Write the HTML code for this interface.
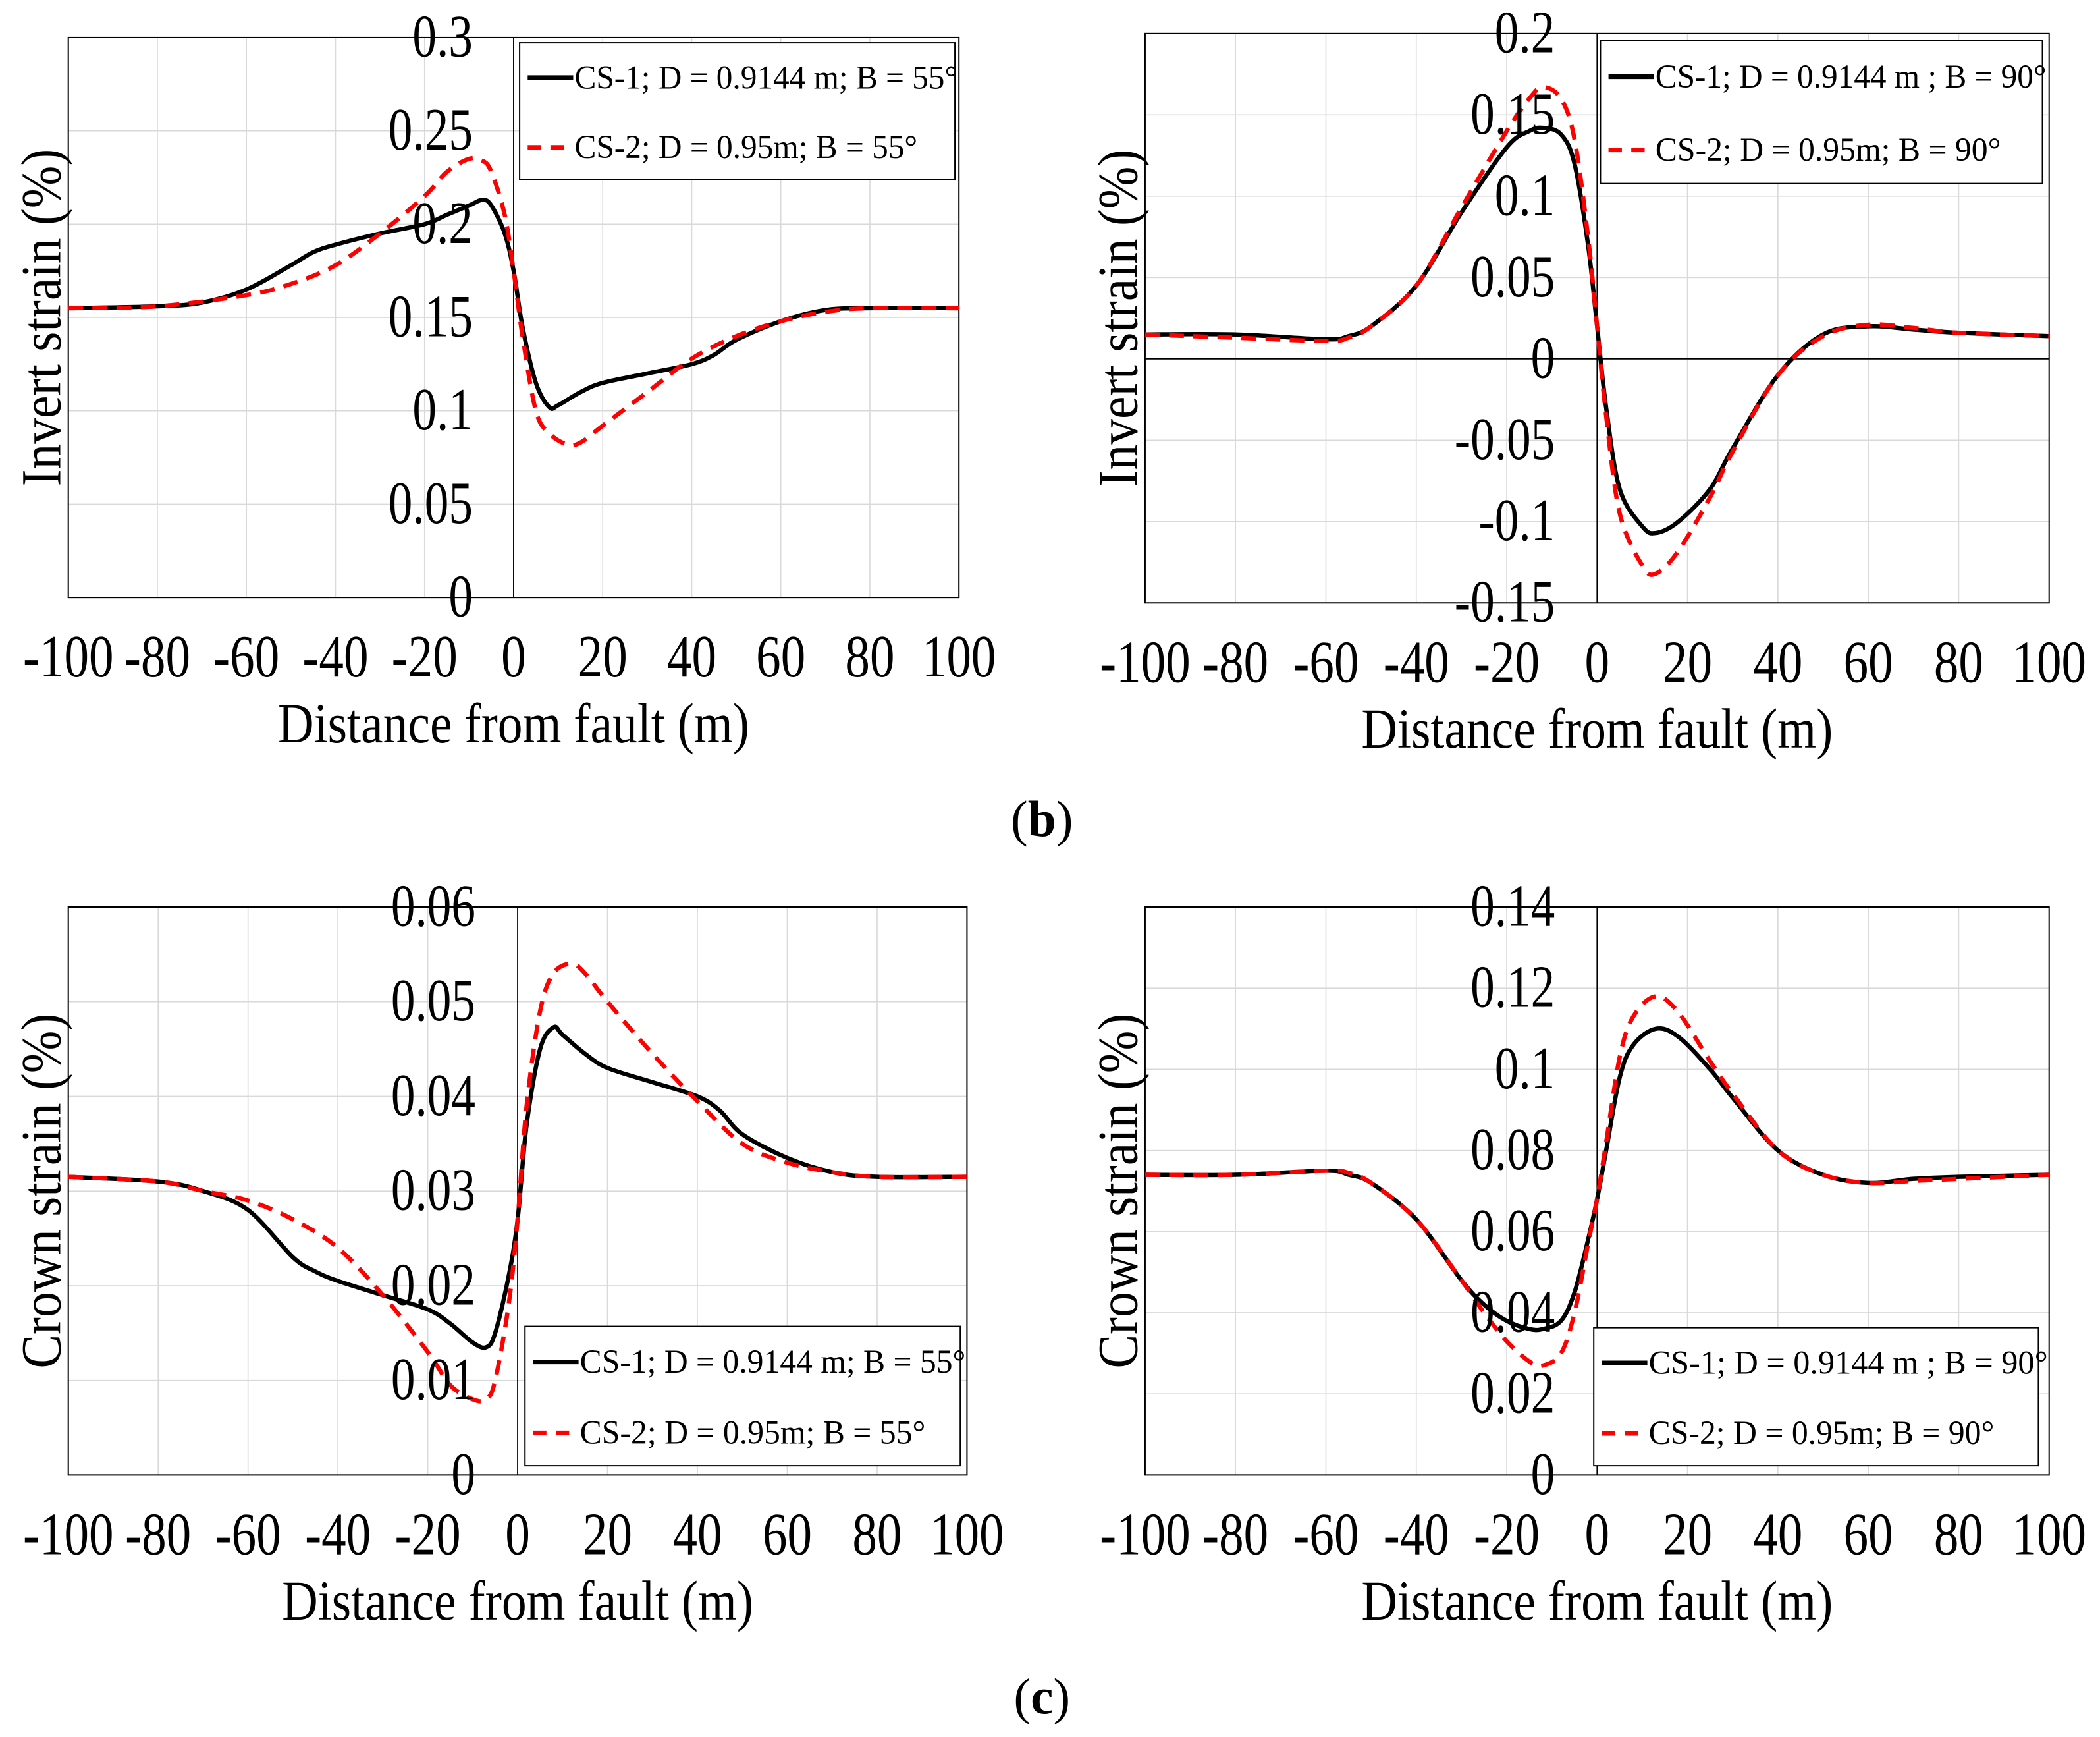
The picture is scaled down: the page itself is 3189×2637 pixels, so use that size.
<!DOCTYPE html>
<html><head><meta charset="utf-8"><style>
html,body{margin:0;padding:0;background:#fff;}
svg{display:block;}
text{font-family:"Liberation Serif","Times New Roman",serif;fill:#000;}
</style></head>
<body>
<svg id="fig" width="3189" height="2637" viewBox="0 0 1568 1296.5" preserveAspectRatio="none" xmlns="http://www.w3.org/2000/svg">
<text x="778" y="624" text-anchor="middle" font-size="38">(<tspan font-weight="bold">b</tspan>)</text>
<text x="778" y="1279" text-anchor="middle" font-size="38">(<tspan font-weight="bold">c</tspan>)</text>
</svg>
<script>
// ---- Panel A: invert strain, B=55
const aX1 = [-100,-80,-70,-60,-50,-45,-40,-30,-20,-15,-10,-7,-5,-2,0,2,5,8,10,15,20,30,40,45,50,60,70,80,100];
const aY1 = [0.155,0.156,0.158,0.165,0.178,0.185,0.189,0.195,0.2,0.205,0.21,0.213,0.21,0.195,0.175,0.145,0.115,0.102,0.103,0.11,0.115,0.12,0.125,0.13,0.138,0.148,0.154,0.155,0.155];
const aX2 = [-100,-80,-60,-50,-40,-30,-20,-15,-10,-7,-5,-2,0,2,5,8,12,15,20,30,40,50,60,70,80,100];
const aY2 = [0.155,0.156,0.162,0.168,0.178,0.195,0.215,0.228,0.235,0.234,0.228,0.205,0.175,0.14,0.1,0.088,0.082,0.083,0.092,0.11,0.128,0.14,0.148,0.153,0.155,0.155];
const aTicks = [0,0.05,0.1,0.15,0.2,0.25,0.3];
const aTickLabels = ["0","0.05","0.1","0.15","0.2","0.25","0.3"];
// ---- Panel B: invert strain, B=90
const bX1 = [-100,-80,-60,-55,-50,-40,-30,-20,-15,-12,-8,-5,-2,0,2,5,10,13,18,25,30,40,50,60,70,80,100];
const bY1 = [0.015,0.015,0.012,0.014,0.02,0.045,0.09,0.13,0.14,0.142,0.138,0.12,0.07,0.02,-0.03,-0.08,-0.103,-0.107,-0.1,-0.08,-0.055,-0.01,0.015,0.02,0.018,0.016,0.014];
const bX2 = [-100,-80,-60,-55,-50,-40,-30,-20,-15,-12,-8,-5,-2,0,2,5,10,13,18,25,30,40,50,60,70,80,100];
const bY2 = [0.015,0.013,0.011,0.013,0.02,0.045,0.093,0.14,0.16,0.167,0.16,0.135,0.075,0.02,-0.035,-0.095,-0.127,-0.132,-0.118,-0.085,-0.057,-0.01,0.014,0.021,0.019,0.016,0.014];
const bTicks = [-0.15,-0.1,-0.05,0,0.05,0.1,0.15,0.2];
const bTickLabels = ["-0.15","-0.1","-0.05","0","0.05","0.1","0.15","0.2"];
// ---- Panel C: crown strain, B=55
const cX1 = [-100,-80,-70,-60,-50,-45,-40,-30,-20,-15,-10,-7,-5,-2,0,2,5,8,10,15,20,30,40,45,50,60,70,80,100];
const cY1 = [0.0315,0.031,0.030,0.028,0.023,0.0215,0.0205,0.019,0.0175,0.016,0.014,0.0135,0.015,0.021,0.027,0.037,0.045,0.0473,0.0465,0.0445,0.043,0.0415,0.040,0.0385,0.036,0.0335,0.032,0.0315,0.0315];
const cX2 = [-100,-80,-70,-60,-50,-40,-30,-20,-15,-10,-7,-5,-2,0,2,5,8,12,15,20,30,40,50,60,70,80,100];
const cY2 = [0.0315,0.031,0.030,0.029,0.027,0.024,0.019,0.013,0.0095,0.008,0.008,0.01,0.018,0.027,0.039,0.049,0.053,0.054,0.053,0.05,0.0445,0.0395,0.035,0.033,0.032,0.0315,0.0315];
const cTicks = [0,0.01,0.02,0.03,0.04,0.05,0.06];
const cTickLabels = ["0","0.01","0.02","0.03","0.04","0.05","0.06"];
// ---- Panel D: crown strain, B=90
const dX1 = [-100,-80,-60,-55,-50,-40,-30,-25,-20,-15,-12,-8,-5,-2,0,2,5,8,13,18,25,30,40,50,60,70,80,100];
const dY1 = [0.074,0.074,0.075,0.074,0.072,0.063,0.048,0.042,0.038,0.036,0.036,0.038,0.045,0.058,0.068,0.08,0.098,0.106,0.11,0.108,0.1,0.093,0.08,0.074,0.072,0.073,0.0735,0.074];
const dX2 = [-100,-80,-60,-55,-50,-40,-30,-25,-20,-15,-12,-8,-5,-2,0,2,5,8,13,18,25,30,40,50,60,70,80,100];
const dY2 = [0.074,0.074,0.075,0.0745,0.072,0.063,0.048,0.04,0.033,0.028,0.027,0.03,0.04,0.057,0.068,0.082,0.103,0.113,0.118,0.114,0.102,0.094,0.08,0.074,0.072,0.0725,0.073,0.074];
const dTicks = [0,0.02,0.04,0.06,0.08,0.1,0.12,0.14];
const dTickLabels = ["0","0.02","0.04","0.06","0.08","0.1","0.12","0.14"];
const xTicks = [-100,-80,-60,-40,-20,0,20,40,60,80,100];
const xTickLabels = ["-100","-80","-60","-40","-20","0","20","40","60","80","100"];

const NS = "http://www.w3.org/2000/svg";
const svg = document.getElementById('fig');
function mk(tag, attrs, parent){
  const e = document.createElementNS(NS, tag);
  for (const k in attrs) e.setAttribute(k, attrs[k]);
  (parent||svg).appendChild(e);
  return e;
}
function condense(t, f){
  const w = t.getComputedTextLength();
  t.setAttribute('textLength', (w*f).toFixed(1));
  t.setAttribute('lengthAdjust', 'spacingAndGlyphs');
}
function smoothPath(pts){
  let d = 'M' + pts[0][0].toFixed(2) + ' ' + pts[0][1].toFixed(2);
  for (let i=0;i<pts.length-1;i++){
    const p0 = pts[i-1]||pts[i], p1 = pts[i], p2 = pts[i+1], p3 = pts[i+2]||p2;
    const c1 = [p1[0]+(p2[0]-p0[0])/6, p1[1]+(p2[1]-p0[1])/6];
    const c2 = [p2[0]-(p3[0]-p1[0])/6, p2[1]-(p3[1]-p1[1])/6];
    d += ' C'+c1[0].toFixed(2)+' '+c1[1].toFixed(2)+' '+c2[0].toFixed(2)+' '+c2[1].toFixed(2)+' '+p2[0].toFixed(2)+' '+p2[1].toFixed(2);
  }
  return d;
}
function panel(cfg){
  const g = mk('g', {});
  
  
  const L=cfg.l, R=cfg.r, T=cfg.t, B=cfg.b;
  const sx = v => L + (v+100)/200*(R-L);
  const sy = v => B - (v-cfg.ymin)/(cfg.ymax-cfg.ymin)*(B-T);
  xTicks.forEach(v => {
    const ln = mk('line', {x1:sx(v), x2:sx(v), y1:T, y2:B, stroke:'#d9d9d9', 'stroke-width':0.8}, g);
    
    
  });
  cfg.ticks.forEach(v => {
    const ln = mk('line', {x1:L, x2:R, y1:sy(v), y2:sy(v), stroke:'#d9d9d9', 'stroke-width':0.8}, g);
    
    
  });
  const fr = mk('rect', {x:L, y:T, width:R-L, height:B-T, fill:'none', stroke:'#000', 'stroke-width':1}, g);
  
  
  const ya = mk('line', {x1:sx(0), x2:sx(0), y1:T, y2:B, stroke:'#000', 'stroke-width':0.9}, g);
  
  
  if (cfg.ymin < 0){
    const za = mk('line', {x1:L, x2:R, y1:sy(0), y2:sy(0), stroke:'#000', 'stroke-width':0.9}, g);
    
    
  }
  const s1 = mk('path', {d:smoothPath(cfg.x1.map((v,i)=>[sx(v), sy(cfg.y1[i])])), fill:'none', stroke:'#000', 'stroke-width':3.2, 'stroke-linejoin':'round'}, g);
  
  
  const s2 = mk('path', {d:smoothPath(cfg.x2.map((v,i)=>[sx(v), sy(cfg.y2[i])])), fill:'none', stroke:'#ff0000', 'stroke-width':3.2, 'stroke-dasharray':'11 7'}, g);
  
  
  cfg.ticks.forEach((v,i) => {
    const t = mk('text', {x:cfg.lblX, y:sy(v)+14, 'text-anchor':'end', 'font-size':45}, g);
    t.textContent = cfg.tickLabels[i];
    
    
    condense(t, 0.8);
  });
  xTicks.forEach((v,i) => {
    const t = mk('text', {x:sx(v), y:cfg.xlY, 'text-anchor':'middle', 'font-size':45}, g);
    t.textContent = xTickLabels[i];
    
    
    condense(t, 0.82);
  });
  const xt = mk('text', {x:(L+R)/2, y:cfg.xlY+49, 'text-anchor':'middle', 'font-size':42, textLength:352, lengthAdjust:'spacingAndGlyphs'}, g);
  xt.textContent = 'Distance from fault (m)';
  
  
  const ycx = L-6, ycy = (T+B)/2;
  const yt = mk('text', {x:ycx, y:ycy, 'text-anchor':'middle', 'font-size':42, transform:'rotate(-90 '+ycx+' '+ycy+')', textLength:cfg.ytLen, lengthAdjust:'spacingAndGlyphs'}, g);
  yt.textContent = cfg.ytitle;
  
  
  const lg = mk('g', {}, g);
  
  
  mk('rect', {x:cfg.lgx, y:cfg.lgy, width:cfg.lgw, height:cfg.lgh, fill:'#fff', stroke:'#000', 'stroke-width':1}, lg);
  const e1y = cfg.lgy + cfg.lgh*0.255, e2y = cfg.lgy + cfg.lgh*0.765;
  const le1 = mk('g', {}, lg);
  
  
  mk('line', {x1:cfg.lgx+6, x2:cfg.lgx+40, y1:e1y, y2:e1y, stroke:'#000', 'stroke-width':3.5}, le1);
  const t1 = mk('text', {x:cfg.lgx+41, y:e1y+8, 'font-size':25, textLength:cfg.t1len, lengthAdjust:'spacingAndGlyphs'}, le1);
  t1.textContent = cfg.leg1;
  const le2 = mk('g', {}, lg);
  
  
  mk('line', {x1:cfg.lgx+6, x2:cfg.lgx+40, y1:e2y, y2:e2y, stroke:'#ff0000', 'stroke-width':3.5, 'stroke-dasharray':'10 7'}, le2);
  const t2 = mk('text', {x:cfg.lgx+41, y:e2y+8, 'font-size':25, textLength:cfg.t2len, lengthAdjust:'spacingAndGlyphs'}, le2);
  t2.textContent = cfg.leg2;
}
panel({name:'panel-invert-55', l:51, r:716, t:28, b:446, ymin:0, ymax:0.3, ticks:aTicks, tickLabels:aTickLabels,
  x1:aX1, y1:aY1, x2:aX2, y2:aY2, lblX:353, xlY:505, ytitle:'Invert strain (%)', ytLen:252,
  lgx:388, lgy:32, lgw:325, lgh:102, leg1:'CS-1; D = 0.9144 m; B = 55°', leg2:'CS-2; D = 0.95m; B = 55°', t1len:286, t2len:256});
panel({name:'panel-invert-90', l:855, r:1530, t:25, b:450, ymin:-0.15, ymax:0.2, ticks:bTicks, tickLabels:bTickLabels,
  x1:bX1, y1:bY1, x2:bX2, y2:bY2, lblX:1161, xlY:509, ytitle:'Invert strain (%)', ytLen:252,
  lgx:1195, lgy:30, lgw:330, lgh:107, leg1:'CS-1; D = 0.9144 m ; B = 90°', leg2:'CS-2; D = 0.95m; B = 90°', t1len:292, t2len:258});
panel({name:'panel-crown-55', l:51, r:722, t:677, b:1101, ymin:0, ymax:0.06, ticks:cTicks, tickLabels:cTickLabels,
  x1:cX1, y1:cY1, x2:cX2, y2:cY2, lblX:355, xlY:1160, ytitle:'Crown strain (%)', ytLen:265,
  lgx:392, lgy:990, lgw:325, lgh:104, leg1:'CS-1; D = 0.9144 m; B = 55°', leg2:'CS-2; D = 0.95m; B = 55°', t1len:288, t2len:258});
panel({name:'panel-crown-90', l:855, r:1530, t:677, b:1101, ymin:0, ymax:0.14, ticks:dTicks, tickLabels:dTickLabels,
  x1:dX1, y1:dY1, x2:dX2, y2:dY2, lblX:1161, xlY:1160, ytitle:'Crown strain (%)', ytLen:265,
  lgx:1190, lgy:991, lgw:332, lgh:103, leg1:'CS-1; D = 0.9144 m ; B = 90°', leg2:'CS-2; D = 0.95m; B = 90°', t1len:298, t2len:258});
</script>
</body></html>
